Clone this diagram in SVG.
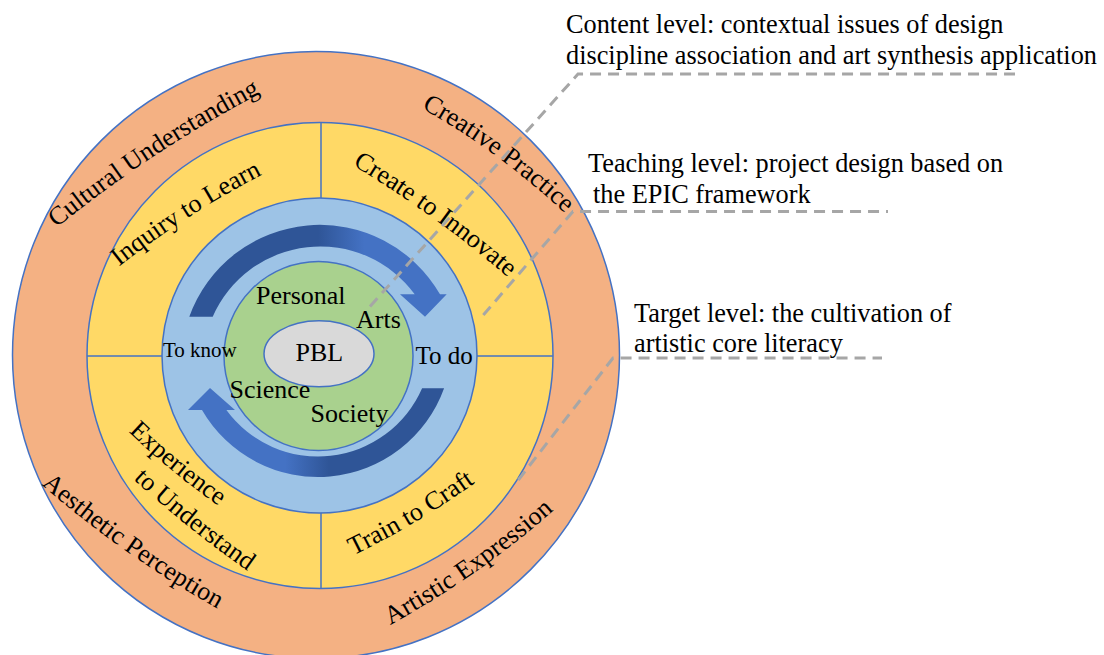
<svg xmlns="http://www.w3.org/2000/svg" width="1104" height="655" viewBox="0 0 1104 655">
  <style>
    .edge{stroke:#4472C4;stroke-width:1.5}
    .t{font-family:"Liberation Serif","Times New Roman",serif;font-size:26px;fill:#000}
    .note{font-size:26.3px}
    .lead{fill:none;stroke:#A6A6A6;stroke-width:3;stroke-dasharray:11 7}
  </style>
  <defs>
    <linearGradient id="gradTop" x1="0" y1="0" x2="1" y2="0">
      <stop offset="0" stop-color="#2F5597"/>
      <stop offset="0.5" stop-color="#2F5597"/>
      <stop offset="0.68" stop-color="#4472C4"/>
      <stop offset="1" stop-color="#4472C4"/>
    </linearGradient>
    <linearGradient id="gradBottom" x1="1" y1="0" x2="0" y2="0">
      <stop offset="0" stop-color="#2F5597"/>
      <stop offset="0.45" stop-color="#2F5597"/>
      <stop offset="0.62" stop-color="#4472C4"/>
      <stop offset="1" stop-color="#4472C4"/>
    </linearGradient>
    <!-- baselines for the arched ring labels -->
    <path id="p-cultural" d="M42,239.8 Q150.8,148.8 277.3,84.4"/>
    <path id="p-creative" d="M402.7,97.6 Q501,149.9 580.6,228.1"/>
    <path id="p-aesthetic" d="M25.9,470.8 Q121.6,557.7 235.7,618.4"/>
    <path id="p-artistic" d="M371.9,634.6 Q479.7,578.6 569.2,496.5"/>
    <path id="p-inquiry" d="M103.4,279 Q185.3,212.2 280.1,165.6"/>
    <path id="p-create" d="M334.7,154.6 Q436.2,213.1 523.6,291.1"/>
    <path id="p-exp1" d="M113.9,417.6 Q169.6,473.7 235.6,517.3"/>
    <path id="p-exp2" d="M117.7,464.7 Q186.4,530.1 265.2,583"/>
    <path id="p-train" d="M334.5,564.4 Q418.3,525.9 491.9,470.4"/>
  </defs>

  <rect width="1104" height="655" fill="#FFFFFF"/>

  <!-- outer ring: core literacy -->
  <g id="literacy-ring">
    <circle class="edge" cx="316" cy="355" r="303.5" fill="#F4B183"/>
  </g>

  <!-- EPIC ring with quadrant dividers -->
  <g id="epic-ring">
    <circle class="edge" cx="320" cy="355.5" r="233" fill="#FFD966"/>
    <line class="edge" x1="321" y1="122.5" x2="321" y2="210"/>
    <line class="edge" x1="321" y1="500" x2="321" y2="588.5"/>
    <line class="edge" x1="87" y1="356" x2="175" y2="356"/>
    <line class="edge" x1="465" y1="356" x2="553" y2="356"/>
  </g>

  <!-- know / do cycle ring -->
  <g id="cycle-ring">
    <circle class="edge" cx="319.5" cy="355.5" r="157.5" fill="#9DC3E6"/>
    <path id="arrow-top" fill="url(#gradTop)" d="M189.3,316.7 A138.7,138.7 0 0 1 440,294.3 L446.7,294.3 L425,316.7 L400,294.3 L414.7,294.3 A117.3,117.3 0 0 0 212.7,316.7 Z"/>
    <path id="arrow-bottom" fill="url(#gradBottom)" d="M444.1,388.3 A134,134 0 0 1 202,410 L188,410 L210,388 L235,410 L226.4,410 A113.5,113.5 0 0 0 422.1,388.3 Z"/>
  </g>

  <!-- domain circle -->
  <g id="domain-circle">
    <circle class="edge" cx="318.5" cy="356" r="94.5" fill="#A9D18E"/>
  </g>

  <!-- PBL core -->
  <g id="pbl-core">
    <ellipse class="edge" cx="319" cy="353.7" rx="55" ry="33" fill="#D9D9D9"/>
    <text class="t" x="295.5" y="361">PBL</text>
  </g>

  <!-- ring labels -->
  <g id="label-cultural"><text class="t" text-anchor="middle"><textPath href="#p-cultural" startOffset="50%">Cultural Understanding</textPath></text></g>
  <g id="label-creative"><text class="t" text-anchor="middle"><textPath href="#p-creative" startOffset="50%">Creative Practice</textPath></text></g>
  <g id="label-aesthetic"><text class="t" text-anchor="middle"><textPath href="#p-aesthetic" startOffset="50%">Aesthetic Perception</textPath></text></g>
  <g id="label-artistic"><text class="t" text-anchor="middle"><textPath href="#p-artistic" startOffset="50%">Artistic Expression</textPath></text></g>
  <g id="label-inquiry"><text class="t" text-anchor="middle"><textPath href="#p-inquiry" startOffset="50%">Inquiry to Learn</textPath></text></g>
  <g id="label-create"><text class="t" text-anchor="middle"><textPath href="#p-create" startOffset="50%">Create to Innovate</textPath></text></g>
  <g id="label-experience">
    <text class="t" text-anchor="middle"><textPath href="#p-exp1" startOffset="50%">Experience</textPath></text>
    <text class="t" text-anchor="middle"><textPath href="#p-exp2" startOffset="50%">to Understand</textPath></text>
  </g>
  <g id="label-train"><text class="t" text-anchor="middle"><textPath href="#p-train" startOffset="50%">Train to Craft</textPath></text></g>

  <!-- cycle labels -->
  <g id="label-know"><text class="t" x="163" y="357" style="font-size:21px">To know</text></g>
  <g id="label-do"><text class="t" x="415.5" y="364" style="font-size:25px">To do</text></g>

  <!-- domain labels -->
  <g id="label-personal"><text class="t" x="256" y="304">Personal</text></g>
  <g id="label-arts"><text class="t" x="356" y="328">Arts</text></g>
  <g id="label-science"><text class="t" x="229.5" y="397.5">Science</text></g>
  <g id="label-society"><text class="t" x="310.5" y="421.5">Society</text></g>

  <!-- level annotations -->
  <g id="note-content">
    <text class="t note" x="566" y="33">Content level: contextual issues of design</text>
    <text class="t note" x="566" y="64">discipline association and art synthesis application</text>
  </g>
  <g id="note-teaching">
    <text class="t note" x="588" y="172">Teaching level: project design based on</text>
    <text class="t note" x="593" y="203">the EPIC framework</text>
  </g>
  <g id="note-target">
    <text class="t note" x="634" y="322">Target level: the cultivation of</text>
    <text class="t note" x="634" y="352">artistic core literacy</text>
  </g>

  <!-- leader lines -->
  <g id="connectors">
    <path class="lead" d="M370,306.5 L578,74 L1015,74"/>
    <path class="lead" d="M483.3,315 L573,211.5 L888,211.5"/>
    <path class="lead" d="M518.3,480 L613,358 L882,358"/>
  </g>
</svg>
